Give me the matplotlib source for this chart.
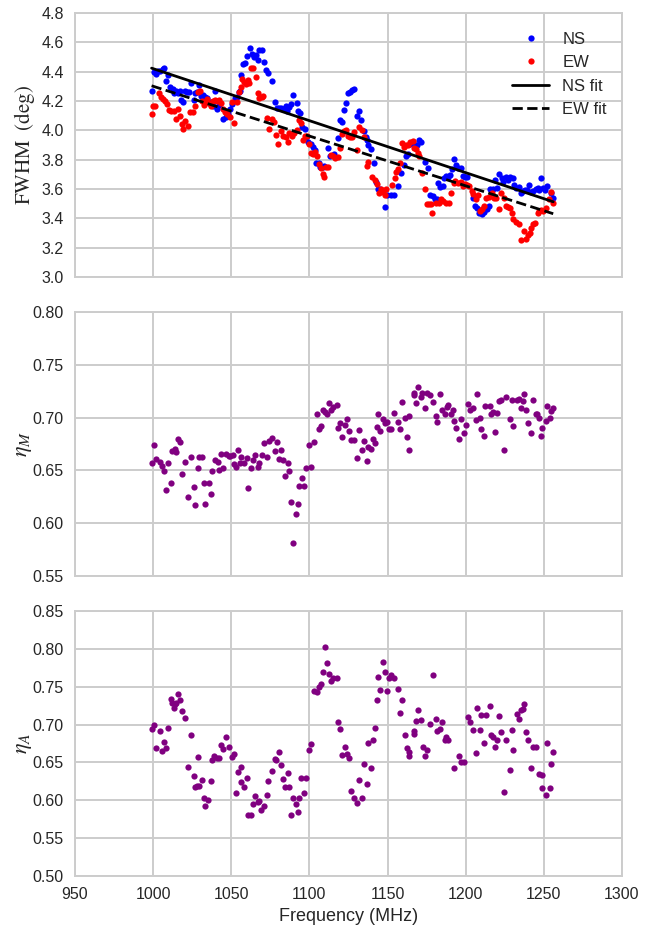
"""
Beam FWHM and efficiencies vs frequency (NS / EW).
"""

import numpy as np
import matplotlib
matplotlib.use("Agg")
import matplotlib.pyplot as plt
import seaborn as sns

# --- FWHM, NS polarisation (deg) ---
ns_freq = [999.0, 1000.4, 1001.7, 1003.0, 1004.7, 1006.0, 1007.2, 1008.3, 1009.8, 1011.1,
           1012.6, 1013.6, 1014.5, 1015.7, 1017.0, 1017.9, 1019.1, 1020.2, 1021.7, 1023.0,
           1024.3, 1026.0, 1027.0, 1028.1, 1029.1, 1030.6, 1031.9, 1033.2, 1034.5, 1035.7,
           1037.0, 1038.3, 1039.4, 1040.9, 1042.1, 1044.7, 1046.4, 1047.7, 1049.4, 1050.6,
           1052.1, 1053.6, 1054.7, 1055.5, 1056.4, 1057.7, 1058.9, 1060.2, 1061.7, 1063.0,
           1064.5, 1065.7, 1067.2, 1067.9, 1069.4, 1070.9, 1072.3, 1073.2, 1076.2, 1077.7,
           1079.1, 1080.4, 1082.1, 1083.4, 1084.7, 1085.7, 1086.8, 1088.3, 1089.4, 1091.9,
           1092.8, 1094.0, 1095.5, 1097.0, 1098.1, 1099.4, 1100.9, 1102.1, 1103.4, 1104.5,
           1106.0, 1107.0, 1108.5, 1109.6, 1112.1, 1113.2, 1115.7, 1118.5, 1119.6, 1120.9,
           1122.3, 1123.2, 1124.7, 1126.0, 1127.2, 1128.3, 1130.2, 1131.7, 1133.2, 1135.1,
           1136.2, 1136.8, 1137.7, 1139.6, 1141.1, 1142.6, 1143.6, 1144.9, 1148.1, 1149.8,
           1152.3, 1154.0, 1156.8, 1158.9, 1160.6, 1161.9, 1163.2, 1164.5, 1166.2, 1167.4,
           1168.9, 1170.4, 1171.7, 1174.0, 1175.7, 1177.2, 1178.9, 1180.2, 1181.5, 1182.3,
           1183.6, 1185.3, 1186.4, 1187.4, 1188.5, 1189.8, 1191.3, 1192.8, 1193.8, 1195.3,
           1196.8, 1198.1, 1199.8, 1201.1, 1204.5, 1205.7, 1207.0, 1208.7, 1210.4, 1211.9,
           1213.4, 1215.1, 1215.7, 1217.2, 1218.7, 1220.2, 1221.5, 1223.2, 1224.0, 1225.7,
           1227.0, 1228.3, 1230.0, 1230.6, 1232.1, 1233.8, 1235.3, 1236.4, 1237.9, 1239.1,
           1240.2, 1241.7, 1243.2, 1244.9, 1246.2, 1247.0, 1248.5, 1249.4, 1250.9, 1252.3,
           1254.5, 1255.7]
ns_fwhm = [4.270, 4.395, 4.384, 4.402, 4.407, 4.416, 4.427, 4.336, 4.375, 4.298,
           4.282, 4.257, 4.268, 4.257, 4.270, 4.209, 4.195, 4.268, 4.261, 4.259,
           4.320, 4.205, 4.252, 4.261, 4.309, 4.234, 4.241, 4.230, 4.218, 4.189,
           4.195, 4.168, 4.268, 4.148, 4.170, 4.075, 4.089, 4.109, 4.143, 4.182,
           4.218, 4.230, 4.264, 4.270, 4.380, 4.455, 4.461, 4.507, 4.559, 4.520,
           4.502, 4.514, 4.480, 4.548, 4.548, 4.464, 4.411, 4.393, 4.339, 4.195,
           4.155, 4.155, 4.155, 4.145, 4.164, 4.134, 4.157, 4.182, 4.239, 4.184,
           4.132, 4.116, 4.025, 4.007, 3.957, 3.920, 3.905, 3.889, 3.866, 3.775,
           3.775, 3.752, 3.752, 3.757, 3.877, 3.825, 3.839, 3.950, 4.070, 4.059,
           4.139, 4.186, 4.252, 4.264, 4.275, 4.284, 4.098, 4.134, 4.070, 3.995,
           3.957, 3.934, 3.898, 3.870, 3.775, 3.648, 3.598, 3.602, 3.479, 3.556,
           3.556, 3.556, 3.620, 3.706, 3.765, 3.824, 3.835, 3.908, 3.919, 3.888,
           3.903, 3.931, 3.922, 3.785, 3.745, 3.556, 3.552, 3.534, 3.534, 3.643,
           3.615, 3.620, 3.677, 3.688, 3.683, 3.692, 3.733, 3.801, 3.761, 3.740,
           3.745, 3.688, 3.683, 3.683, 3.541, 3.484, 3.473, 3.439, 3.427, 3.443,
           3.466, 3.484, 3.597, 3.602, 3.661, 3.609, 3.704, 3.677, 3.647, 3.683,
           3.661, 3.681, 3.677, 3.624, 3.609, 3.615, 3.575, 3.586, 3.593, 3.590,
           3.624, 3.579, 3.586, 3.602, 3.606, 3.593, 3.677, 3.609, 3.593, 3.620,
           3.575, 3.541]

# --- FWHM, EW polarisation (deg) ---
ew_freq = [999.0, 1000.0, 1001.5, 1004.0, 1005.3, 1006.4, 1007.7, 1008.9, 1010.2, 1011.5,
           1013.2, 1014.5, 1015.7, 1017.0, 1018.3, 1019.1, 1020.4, 1022.3, 1023.8, 1025.3,
           1027.0, 1028.5, 1029.8, 1031.3, 1032.3, 1033.4, 1034.5, 1035.7, 1037.0, 1038.3,
           1039.6, 1040.9, 1042.1, 1043.6, 1044.7, 1046.0, 1047.2, 1048.9, 1050.4, 1051.7,
           1053.4, 1054.9, 1056.0, 1056.8, 1057.9, 1059.4, 1060.4, 1061.5, 1062.8, 1064.0,
           1065.5, 1067.0, 1067.9, 1069.4, 1070.6, 1072.6, 1074.0, 1076.0, 1077.4, 1078.9,
           1080.0, 1081.7, 1083.2, 1084.7, 1086.2, 1087.2, 1088.7, 1090.2, 1091.9, 1093.2,
           1094.5, 1095.7, 1097.0, 1098.3, 1099.6, 1100.9, 1102.1, 1103.6, 1105.1, 1106.4,
           1107.7, 1108.7, 1109.4, 1110.6, 1111.7, 1113.8, 1115.1, 1116.4, 1118.1, 1119.6,
           1120.9, 1122.1, 1123.4, 1124.7, 1126.0, 1127.2, 1128.5, 1130.2, 1131.9, 1133.6,
           1134.9, 1136.6, 1137.7, 1140.0, 1141.7, 1143.0, 1144.5, 1145.7, 1147.0, 1148.1,
           1149.1, 1153.0, 1154.5, 1155.5, 1156.8, 1157.7, 1159.1, 1160.6, 1161.9, 1163.2,
           1164.5, 1166.2, 1166.8, 1167.9, 1169.4, 1170.4, 1172.1, 1174.0, 1175.3, 1176.8,
           1177.7, 1178.7, 1181.1, 1182.6, 1184.3, 1185.7, 1187.4, 1189.1, 1190.6, 1192.3,
           1193.4, 1195.1, 1196.8, 1198.1, 1199.4, 1200.6, 1202.3, 1203.8, 1204.9, 1206.6,
           1207.9, 1209.1, 1210.4, 1211.7, 1213.2, 1215.1, 1216.8, 1218.3, 1219.4, 1221.1,
           1222.8, 1224.3, 1225.7, 1227.2, 1228.5, 1229.6, 1230.4, 1232.1, 1233.8, 1235.5,
           1237.0, 1238.5, 1239.6, 1240.9, 1242.0, 1243.2, 1244.5, 1246.2, 1247.2, 1248.5,
           1249.6, 1251.3, 1253.4, 1254.5, 1256.0]
ew_fwhm = [4.109, 4.164, 4.164, 4.252, 4.230, 4.216, 4.200, 4.177, 4.139, 4.134,
           4.132, 4.075, 4.148, 4.098, 4.043, 4.009, 4.066, 4.030, 4.125, 4.123,
           4.166, 4.264, 4.270, 4.202, 4.173, 4.195, 4.216, 4.184, 4.168, 4.200,
           4.207, 4.200, 4.207, 4.184, 4.143, 4.123, 4.109, 4.089, 4.193, 4.052,
           4.195, 4.264, 4.298, 4.348, 4.332, 4.314, 4.343, 4.320, 4.427, 4.427,
           4.366, 4.252, 4.218, 4.230, 4.234, 4.086, 4.009, 4.075, 4.059, 3.968,
           3.907, 3.998, 3.961, 3.957, 3.923, 3.980, 3.961, 3.980, 4.002, 4.070,
           4.048, 3.934, 3.961, 3.961, 3.905, 3.848, 3.839, 3.852, 3.827, 3.770,
           3.741, 3.702, 3.684, 3.752, 3.752, 3.830, 3.825, 3.809, 3.820, 3.877,
           3.975, 3.998, 4.002, 3.961, 3.957, 3.952, 3.991, 3.866, 4.025, 4.002,
           3.957, 3.757, 3.786, 3.684, 3.661, 3.634, 3.575, 3.597, 3.579, 3.556,
           3.602, 3.624, 3.677, 3.715, 3.733, 3.779, 3.915, 3.888, 3.903, 3.897,
           3.919, 3.926, 3.881, 3.874, 3.847, 3.824, 3.706, 3.602, 3.495, 3.495,
           3.500, 3.434, 3.507, 3.507, 3.529, 3.518, 3.507, 3.502, 3.575, 3.643,
           3.654, 3.638, 3.647, 3.620, 3.631, 3.624, 3.620, 3.588, 3.563, 3.529,
           3.556, 3.450, 3.461, 3.484, 3.538, 3.547, 3.575, 3.541, 3.541, 3.466,
           3.575, 3.541, 3.484, 3.477, 3.473, 3.434, 3.393, 3.375, 3.359, 3.250,
           3.314, 3.257, 3.287, 3.298, 3.337, 3.364, 3.371, 3.439, 3.450, 3.457,
           3.450, 3.473, 3.534, 3.579, 3.507]

# linear fits: (FWHM at 1000 MHz, slope per MHz), fit range
ns_fit = (4.420, -0.003545)
ew_fit = (4.300, -0.003394)
fit_range = [999.0, 1256.0]

# --- main-beam efficiency eta_M ---
etam_freq = [999.0, 1000.4, 1001.7, 1004.3, 1005.7, 1007.2, 1008.3, 1009.8, 1011.5, 1012.1,
             1013.8, 1014.7, 1016.2, 1017.4, 1018.7, 1020.4, 1022.3, 1024.0, 1026.0, 1027.0,
             1028.9, 1029.2, 1031.3, 1032.8, 1033.4, 1035.5, 1037.0, 1037.7, 1039.4, 1041.5,
             1041.9, 1043.4, 1044.9, 1046.6, 1048.3, 1049.4, 1050.9, 1051.7, 1053.2, 1054.5,
             1055.7, 1056.2, 1058.1, 1060.2, 1060.4, 1062.6, 1063.8, 1065.3, 1067.0, 1067.9,
             1069.4, 1070.9, 1072.6, 1074.0, 1076.2, 1077.7, 1079.1, 1080.4, 1081.9, 1083.4,
             1084.5, 1086.2, 1086.8, 1088.1, 1089.4, 1091.7, 1092.6, 1093.6, 1095.1, 1096.4,
             1098.1, 1099.6, 1101.1, 1103.0, 1104.7, 1106.0, 1107.2, 1108.7, 1110.0, 1111.1,
             1112.3, 1113.8, 1115.3, 1117.4, 1118.5, 1119.8, 1121.1, 1122.6, 1123.8, 1125.3,
             1126.8, 1128.3, 1130.2, 1131.9, 1133.8, 1135.1, 1136.6, 1137.7, 1139.1, 1140.9,
             1142.1, 1143.2, 1143.8, 1145.1, 1147.0, 1148.1, 1149.6, 1150.9, 1152.3, 1154.0,
             1156.6, 1157.7, 1159.1, 1160.9, 1162.6, 1163.6, 1164.0, 1166.8, 1167.2, 1168.5,
             1169.6, 1171.1, 1172.3, 1174.0, 1175.5, 1177.4, 1178.9, 1181.1, 1181.7, 1183.6,
             1185.1, 1186.6, 1187.9, 1188.7, 1190.9, 1191.9, 1192.6, 1194.0, 1195.7, 1197.0,
             1198.9, 1200.0, 1201.5, 1202.8, 1204.7, 1206.4, 1207.4, 1209.4, 1210.0, 1211.5,
             1212.6, 1215.3, 1216.0, 1217.2, 1218.5, 1220.0, 1221.3, 1222.8, 1224.3, 1225.7,
             1228.5, 1229.8, 1230.2, 1232.6, 1233.8, 1235.5, 1236.8, 1237.2, 1238.5, 1240.0,
             1241.5, 1243.0, 1244.7, 1245.5, 1247.0, 1248.5, 1249.1, 1251.1, 1252.3, 1253.8,
             1254.9, 1256.0]
etam = [0.657, 0.674, 0.661, 0.658, 0.654, 0.649, 0.631, 0.657, 0.638, 0.668,
        0.670, 0.667, 0.680, 0.677, 0.647, 0.658, 0.625, 0.663, 0.634, 0.617,
        0.652, 0.663, 0.663, 0.638, 0.618, 0.638, 0.628, 0.649, 0.660, 0.658,
        0.650, 0.666, 0.652, 0.666, 0.664, 0.664, 0.665, 0.656, 0.653, 0.669,
        0.657, 0.663, 0.657, 0.662, 0.633, 0.652, 0.660, 0.665, 0.653, 0.657,
        0.665, 0.676, 0.663, 0.678, 0.681, 0.668, 0.677, 0.661, 0.669, 0.660,
        0.645, 0.657, 0.649, 0.620, 0.581, 0.609, 0.618, 0.635, 0.643, 0.635,
        0.652, 0.674, 0.653, 0.677, 0.703, 0.689, 0.692, 0.707, 0.705, 0.703,
        0.714, 0.707, 0.710, 0.712, 0.690, 0.695, 0.682, 0.693, 0.699, 0.687,
        0.679, 0.679, 0.662, 0.688, 0.669, 0.678, 0.659, 0.672, 0.670, 0.680,
        0.676, 0.691, 0.703, 0.687, 0.699, 0.695, 0.696, 0.689, 0.689, 0.704,
        0.696, 0.689, 0.715, 0.700, 0.682, 0.669, 0.702, 0.721, 0.723, 0.714,
        0.729, 0.720, 0.723, 0.709, 0.723, 0.721, 0.715, 0.702, 0.696, 0.722,
        0.707, 0.703, 0.710, 0.712, 0.703, 0.707, 0.697, 0.690, 0.680, 0.699,
        0.685, 0.693, 0.713, 0.707, 0.709, 0.698, 0.722, 0.700, 0.689, 0.683,
        0.711, 0.711, 0.703, 0.705, 0.686, 0.704, 0.716, 0.717, 0.669, 0.720,
        0.699, 0.717, 0.692, 0.717, 0.718, 0.709, 0.716, 0.722, 0.707, 0.695,
        0.685, 0.717, 0.703, 0.703, 0.700, 0.683, 0.690, 0.697, 0.711, 0.700,
        0.706, 0.709]

# --- aperture efficiency eta_A ---
etaa_freq = [999.0, 1000.4, 1001.7, 1004.3, 1005.7, 1007.2, 1008.5, 1009.8, 1011.5, 1012.1,
             1013.4, 1013.8, 1014.9, 1016.2, 1017.4, 1018.7, 1020.4, 1022.3, 1024.0, 1026.0,
             1027.0, 1028.1, 1028.9, 1029.4, 1031.3, 1032.8, 1033.4, 1035.3, 1037.0, 1037.7,
             1039.1, 1040.9, 1042.1, 1043.2, 1044.9, 1046.6, 1048.5, 1050.2, 1051.7, 1053.0,
             1054.5, 1056.0, 1056.2, 1058.3, 1060.2, 1060.4, 1062.6, 1063.8, 1065.3, 1067.0,
             1067.9, 1069.1, 1070.9, 1072.6, 1073.8, 1076.2, 1077.7, 1078.9, 1080.4, 1081.9,
             1083.2, 1084.5, 1086.2, 1086.8, 1088.1, 1089.4, 1091.7, 1092.6, 1093.6, 1094.9,
             1096.4, 1098.1, 1099.6, 1101.1, 1103.0, 1104.7, 1106.0, 1107.2, 1108.7, 1110.2,
             1111.3, 1112.3, 1113.8, 1115.3, 1117.4, 1118.5, 1119.8, 1121.1, 1122.6, 1123.8,
             1125.3, 1126.8, 1128.3, 1130.2, 1131.9, 1133.6, 1135.1, 1136.6, 1137.7, 1139.1,
             1140.9, 1142.1, 1143.2, 1143.8, 1145.1, 1147.0, 1148.1, 1149.6, 1150.9, 1152.3,
             1154.0, 1156.6, 1157.7, 1159.1, 1160.9, 1162.3, 1163.6, 1164.0, 1166.8, 1167.0,
             1168.3, 1169.6, 1171.1, 1172.6, 1174.0, 1175.5, 1177.4, 1178.9, 1181.1, 1181.7,
             1183.4, 1185.1, 1186.6, 1187.7, 1188.5, 1192.6, 1195.5, 1196.8, 1199.1, 1201.5,
             1203.0, 1204.7, 1206.4, 1207.2, 1209.4, 1210.0, 1211.5, 1212.8, 1215.3, 1216.0,
             1217.2, 1218.5, 1220.0, 1221.3, 1222.8, 1224.3, 1225.7, 1228.3, 1229.8, 1230.4,
             1232.8, 1234.3, 1235.5, 1236.6, 1237.0, 1238.7, 1240.0, 1241.5, 1243.0, 1244.7,
             1246.6, 1248.7, 1249.0, 1251.1, 1252.3, 1253.8, 1254.9, 1256.0]
etaa = [0.694, 0.699, 0.669, 0.692, 0.665, 0.677, 0.669, 0.695, 0.734, 0.728,
        0.722, 0.727, 0.729, 0.740, 0.732, 0.718, 0.709, 0.644, 0.686, 0.632,
        0.618, 0.619, 0.657, 0.619, 0.627, 0.603, 0.593, 0.600, 0.626, 0.653,
        0.658, 0.656, 0.656, 0.673, 0.668, 0.684, 0.671, 0.657, 0.661, 0.609,
        0.637, 0.644, 0.624, 0.617, 0.629, 0.581, 0.581, 0.595, 0.606, 0.598,
        0.599, 0.587, 0.593, 0.607, 0.625, 0.638, 0.654, 0.653, 0.664, 0.647,
        0.628, 0.618, 0.636, 0.617, 0.581, 0.603, 0.595, 0.585, 0.603, 0.630,
        0.610, 0.630, 0.667, 0.674, 0.744, 0.743, 0.750, 0.753, 0.769, 0.803,
        0.781, 0.767, 0.757, 0.761, 0.761, 0.704, 0.694, 0.660, 0.671, 0.661,
        0.656, 0.612, 0.603, 0.596, 0.627, 0.603, 0.648, 0.622, 0.675, 0.643,
        0.680, 0.695, 0.732, 0.763, 0.746, 0.783, 0.769, 0.744, 0.762, 0.765,
        0.761, 0.747, 0.715, 0.733, 0.686, 0.669, 0.659, 0.664, 0.688, 0.691,
        0.705, 0.719, 0.706, 0.671, 0.658, 0.666, 0.701, 0.766, 0.707, 0.692,
        0.694, 0.704, 0.679, 0.683, 0.679, 0.642, 0.659, 0.650, 0.650, 0.710,
        0.704, 0.693, 0.662, 0.722, 0.693, 0.712, 0.676, 0.712, 0.724, 0.686,
        0.684, 0.671, 0.680, 0.711, 0.690, 0.611, 0.679, 0.640, 0.693, 0.666,
        0.714, 0.707, 0.719, 0.720, 0.727, 0.690, 0.679, 0.642, 0.671, 0.670,
        0.635, 0.633, 0.616, 0.607, 0.676, 0.616, 0.648, 0.664]


sns.set_style("whitegrid")
plt.rcParams['font.family'] = ['Liberation Sans', 'DejaVu Sans']
plt.rcParams['mathtext.fontset'] = 'stix'
plt.rcParams['text.color'] = '.15'
plt.rcParams['xtick.color'] = '.15'
plt.rcParams['ytick.color'] = '.15'

fig = plt.figure(figsize=(6.45, 9.3), dpi=100)
ax1 = fig.add_axes([0.1163, 0.7022, 0.848, 0.2839])
ax2 = fig.add_axes([0.1163, 0.3806, 0.848, 0.2839], sharex=ax1)
ax3 = fig.add_axes([0.1163, 0.0581, 0.848, 0.2849], sharex=ax1)

ms = 4.5
ax1.plot(ns_freq, ns_fwhm, 'o', color='blue', ms=ms, mew=0, label='NS')
ax1.plot(ew_freq, ew_fwhm, 'o', color='red', ms=ms, mew=0, label='EW')
xf = np.array(fit_range)
ax1.plot(xf, ns_fit[0] + ns_fit[1] * (xf - 1000), '-', color='k', lw=2, label='NS fit')
ax1.plot(xf, ew_fit[0] + ew_fit[1] * (xf - 1000), '--', color='k', lw=2, label='EW fit')
ax1.set_ylim(3.0, 4.8)
ax1.set_yticks(np.arange(3.0, 4.81, 0.2))
ax1.yaxis.set_major_formatter(plt.FormatStrFormatter('%.1f'))
ax1.set_ylabel(r'$\mathrm{FWHM\ \ (deg)}$', fontsize=15, labelpad=3)
ax1.legend(loc='upper right', bbox_to_anchor=(1.0, 0.985), numpoints=1,
           fontsize=12, frameon=False, handlelength=2.2)

ax2.plot(etam_freq, etam, 'o', color='purple', ms=ms, mew=0)
ax2.set_ylim(0.55, 0.80)
ax2.set_yticks(np.arange(0.55, 0.801, 0.05))
ax2.yaxis.set_major_formatter(plt.FormatStrFormatter('%.2f'))
ax2.set_ylabel(r'$\eta_M$', fontsize=16, labelpad=-1)

ax3.plot(etaa_freq, etaa, 'o', color='purple', ms=ms, mew=0)
ax3.set_ylim(0.50, 0.85)
ax3.set_yticks(np.arange(0.50, 0.851, 0.05))
ax3.yaxis.set_major_formatter(plt.FormatStrFormatter('%.2f'))
ax3.set_ylabel(r'$\eta_A$', fontsize=16, labelpad=-1)
ax3.set_xlabel('Frequency (MHz)', fontsize=13)

ax1.set_xlim(950, 1300)
ax3.set_xticks(np.arange(950, 1301, 50))
for ax in (ax1, ax2):
    plt.setp(ax.get_xticklabels(), visible=False)
for ax in (ax1, ax2, ax3):
    ax.tick_params(labelsize=11.5, length=0, pad=8)
    ax.grid(True, color='.8', lw=1.4)
    for s in ax.spines.values():
        s.set_color('.8')
        s.set_linewidth(1.4)

fig.savefig('out.png', dpi=100)
